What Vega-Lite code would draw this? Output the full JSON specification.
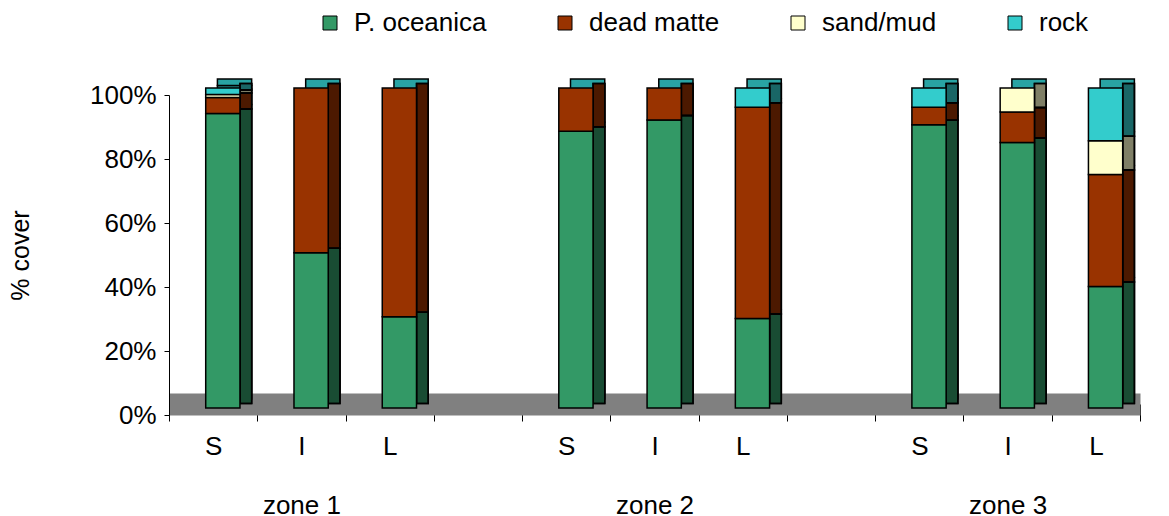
{
  "$schema": "https://vega.github.io/schema/vega-lite/v6.json",
  "width": 971,
  "height": 320,
  "autosize": "none",
  "padding": {"left": 169, "top": 95, "right": 29, "bottom": 101},
  "background": "white",
  "config": {
    "view": {"stroke": null},
    "font": "Liberation Sans"
  },
  "data": {"values": [
      {"slot": "zone 1 S", "cover": "P. oceanica", "k": 1, "pct": 92},
      {"slot": "zone 1 S", "cover": "dead matte", "k": 2, "pct": 5},
      {"slot": "zone 1 S", "cover": "sand/mud", "k": 3, "pct": 1},
      {"slot": "zone 1 S", "cover": "rock", "k": 4, "pct": 2},
      {"slot": "zone 1 I", "cover": "P. oceanica", "k": 1, "pct": 48.5},
      {"slot": "zone 1 I", "cover": "dead matte", "k": 2, "pct": 51.5},
      {"slot": "zone 1 L", "cover": "P. oceanica", "k": 1, "pct": 28.5},
      {"slot": "zone 1 L", "cover": "dead matte", "k": 2, "pct": 71.5},
      {"slot": "zone 2 S", "cover": "P. oceanica", "k": 1, "pct": 86.5},
      {"slot": "zone 2 S", "cover": "dead matte", "k": 2, "pct": 13.5},
      {"slot": "zone 2 I", "cover": "P. oceanica", "k": 1, "pct": 90},
      {"slot": "zone 2 I", "cover": "dead matte", "k": 2, "pct": 10},
      {"slot": "zone 2 L", "cover": "P. oceanica", "k": 1, "pct": 28},
      {"slot": "zone 2 L", "cover": "dead matte", "k": 2, "pct": 66},
      {"slot": "zone 2 L", "cover": "rock", "k": 4, "pct": 6},
      {"slot": "zone 3 S", "cover": "P. oceanica", "k": 1, "pct": 88.5},
      {"slot": "zone 3 S", "cover": "dead matte", "k": 2, "pct": 5.5},
      {"slot": "zone 3 S", "cover": "rock", "k": 4, "pct": 6},
      {"slot": "zone 3 I", "cover": "P. oceanica", "k": 1, "pct": 83},
      {"slot": "zone 3 I", "cover": "dead matte", "k": 2, "pct": 9.5},
      {"slot": "zone 3 I", "cover": "sand/mud", "k": 3, "pct": 7.5},
      {"slot": "zone 3 L", "cover": "P. oceanica", "k": 1, "pct": 38},
      {"slot": "zone 3 L", "cover": "dead matte", "k": 2, "pct": 35},
      {"slot": "zone 3 L", "cover": "sand/mud", "k": 3, "pct": 10.5},
      {"slot": "zone 3 L", "cover": "rock", "k": 4, "pct": 16.5}
  ]},
  "encoding": {
    "x": {
      "field": "slot",
      "type": "nominal",
      "title": null,
      "scale": {
        "domain": ["zone 1 S", "zone 1 I", "zone 1 L", "gap 1", "zone 2 S", "zone 2 I", "zone 2 L", "gap 2", "zone 3 S", "zone 3 I", "zone 3 L"],
        "paddingInner": 0,
        "paddingOuter": 0
      },
      "axis": {
        "offset": -11,
        "domainColor": "#808080",
        "domainWidth": 22,
        "tickBand": "extent",
        "tickSize": 17,
        "tickColor": "black",
        "tickWidth": 1,
        "labelAngle": 0,
        "labelFontSize": 26,
        "labelColor": "black",
        "labelPadding": 12,
        "labelLineHeight": 59,
        "labelBaseline": "top",
        "labelOverlap": false,
        "labelExpr": "isString(datum.value) ? (indexof(datum.value, 'gap') == 0 ? '' : (slice(datum.value, -1) == 'I' ? ['I', slice(datum.value, 0, 6)] : slice(datum.value, -1))) : ''"
      }
    },
    "y": {
      "field": "pct",
      "type": "quantitative",
      "stack": "zero",
      "scale": {"domain": [0, 100], "nice": false},
      "axis": {
        "values": [0, 20, 40, 60, 80, 100],
        "labelExpr": "datum.value + '%'",
        "title": "% cover",
        "grid": false,
        "domainColor": "black",
        "tickColor": "black",
        "tickSize": 5,
        "labelFontSize": 26,
        "labelColor": "black",
        "labelPadding": 8,
        "titleFontSize": 25,
        "titleColor": "black",
        "titleFontWeight": "normal",
        "titlePadding": 56
      }
    },
    "color": {
      "field": "cover",
      "type": "nominal",
      "scale": {"domain": ["P. oceanica", "dead matte", "sand/mud", "rock"], "range": ["#339966", "#993300", "#FFFFCC", "#33CCCC"]},
      "legend": {
        "orient": "none",
        "legendX": 148,
        "legendY": -85,
        "direction": "horizontal",
        "title": null,
        "symbolType": "square",
        "symbolSize": 196,
        "symbolStrokeColor": "black",
        "symbolStrokeWidth": 1,
        "symbolOpacity": 1,
        "labelFontSize": 26,
        "labelColor": "black",
        "labelOffset": 11,
        "columnPadding": 65
      }
    },
    "order": {"field": "k", "type": "quantitative"}
  },
  "layer": [
    {
      "mark": {"type": "bar", "width": {"band": 0.388}, "xOffset": 21.4, "yOffset": -16, "stroke": "black", "strokeWidth": 1.5},
      "encoding": {
        "color": {"value": "#29A3A3"},
        "detail": {"field": "cover", "type": "nominal"}
      }
    },
    {
      "mark": {"type": "bar", "width": {"band": 0.1325}, "xOffset": 32.7, "yOffset": -11.5, "stroke": "black", "strokeWidth": 1.5}
    },
    {
      "mark": {"type": "bar", "width": {"band": 0.1325}, "xOffset": 32.7, "yOffset": -11.5, "fillOpacity": 0.5, "stroke": "black", "strokeWidth": 1.5},
      "encoding": {
        "color": {"value": "black"},
        "detail": {"field": "cover", "type": "nominal"}
      }
    },
    {
      "mark": {"type": "bar", "width": {"band": 0.388}, "xOffset": 9.7, "yOffset": -7, "stroke": "black", "strokeWidth": 1.5}
    }
  ]
}
